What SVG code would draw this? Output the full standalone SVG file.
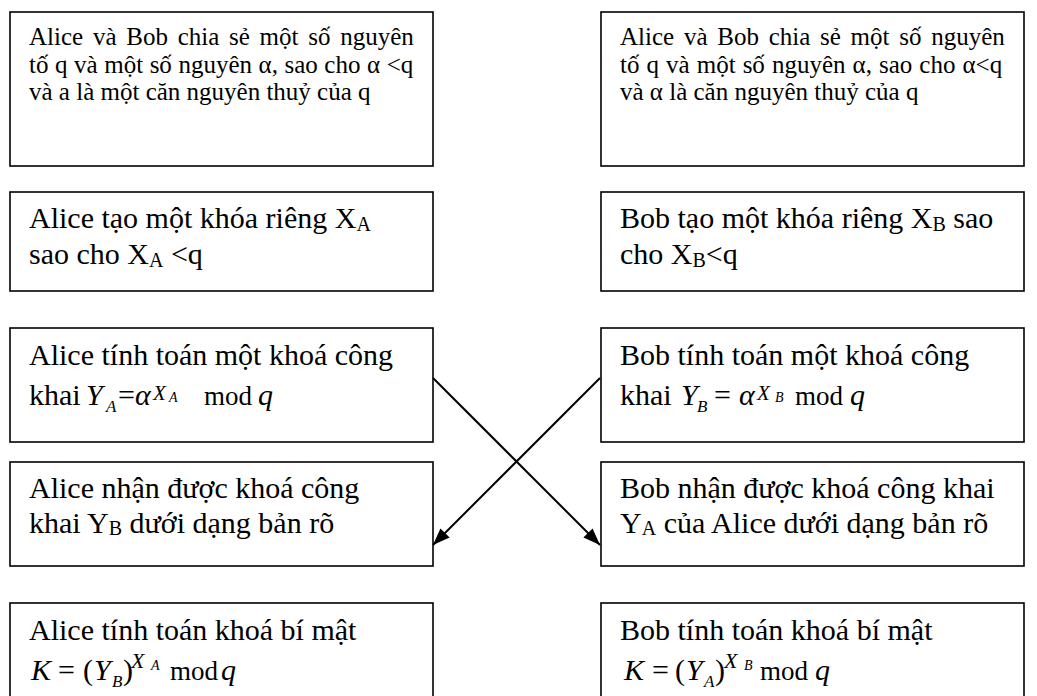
<svg xmlns="http://www.w3.org/2000/svg" width="1037" height="696" viewBox="0 0 1037 696">
<style>
.box{fill:#fff;stroke:#000;stroke-width:1.6}
.t{font-family:"Liberation Serif","Times New Roman",serif;fill:#000}
.s{font-size:25px}
.m{font-size:30px}
.md{font-size:27px}
.i{font-style:italic}
.conn{stroke:#000;stroke-width:2;fill:none}
</style>
<defs>
<marker id="ah" markerUnits="userSpaceOnUse" markerWidth="18" markerHeight="14" refX="17" refY="6.5" orient="auto">
<path d="M0,0 L17,6.5 L0,13 Z" fill="#000"/>
</marker>
</defs>
<rect width="1037" height="696" fill="#fff"/>

<g id="a1">
<rect class="box" x="10" y="12" width="423" height="154"/>
<text class="t s" x="29" y="45" word-spacing="3.5">Alice và Bob chia sẻ một số nguyên</text>
<text class="t s" x="29" y="72.5" word-spacing="0.3">tố q và một số nguyên α, sao cho α &lt;q</text>
<text class="t s" x="29" y="100">và a là một căn nguyên thuỷ của q</text>
</g>
<g id="b1">
<rect class="box" x="601" y="12" width="423" height="154"/>
<text class="t s" x="620" y="45" word-spacing="3.5">Alice và Bob chia sẻ một số nguyên</text>
<text class="t s" x="620" y="72.5" word-spacing="0.8">tố q và một số nguyên α, sao cho α&lt;q</text>
<text class="t s" x="620" y="100">và α là căn nguyên thuỷ của q</text>
</g>

<g id="a2">
<rect class="box" x="10" y="192" width="423" height="99"/>
<text class="t m" x="29" y="228">Alice tạo một khóa riêng X<tspan font-size="20" dy="3">A</tspan></text>
<text class="t m" x="29" y="264">sao cho X<tspan font-size="20" dy="3">A</tspan><tspan dy="-3"> &lt;q</tspan></text>
</g>
<g id="b2">
<rect class="box" x="601" y="192" width="423" height="99"/>
<text class="t m" x="620" y="228">Bob tạo một khóa riêng X<tspan font-size="20" dy="3">B</tspan><tspan dy="-3"> sao</tspan></text>
<text class="t m" x="620" y="264">cho X<tspan font-size="20" dy="3">B</tspan><tspan dy="-3">&lt;q</tspan></text>
</g>

<g id="a3">
<rect class="box" x="10" y="328" width="423" height="114"/>
<text class="t m" x="29" y="365">Alice tính toán một khoá công</text>
<text class="t m" x="29" y="405">khai</text>
<text class="t m i" x="86" y="405">Y</text>
<text class="t i" font-size="17" x="106" y="412">A</text>
<text class="t m" x="118" y="405">=</text>
<text class="t m i" x="135" y="405">α</text>
<text class="t i" font-size="21" x="153" y="400">X</text>
<text class="t i" font-size="14" x="169" y="402">A</text>
<text class="t md" x="204" y="405">mod</text>
<text class="t m i" x="258" y="405">q</text>
</g>
<g id="b3">
<rect class="box" x="601" y="328" width="423" height="114"/>
<text class="t m" x="620" y="365">Bob tính toán một khoá công</text>
<text class="t m" x="620" y="405">khai</text>
<text class="t m i" x="681" y="405">Y</text>
<text class="t i" font-size="17" x="697" y="412">B</text>
<text class="t m" x="714" y="405">=</text>
<text class="t m i" x="739" y="405">α</text>
<text class="t i" font-size="21" x="757" y="400">X</text>
<text class="t i" font-size="14" x="775" y="402">B</text>
<text class="t md" x="795" y="405">mod</text>
<text class="t m i" x="850" y="405">q</text>
</g>

<g id="a4">
<rect class="box" x="10" y="462" width="423" height="104"/>
<text class="t m" x="29" y="498">Alice nhận được khoá công</text>
<text class="t m" x="29" y="533">khai Y<tspan font-size="20" dy="2">B</tspan><tspan dy="-2"> dưới dạng bản rõ</tspan></text>
</g>
<g id="b4">
<rect class="box" x="601" y="462" width="423" height="104"/>
<text class="t m" x="620" y="498">Bob nhận được khoá công khai</text>
<text class="t m" x="620" y="533">Y<tspan font-size="20" dy="2">A</tspan><tspan dy="-2"> của Alice dưới dạng bản rõ</tspan></text>
</g>

<g id="a5">
<rect class="box" x="10" y="603" width="423" height="100"/>
<text class="t m" x="29" y="640">Alice tính toán khoá bí mật</text>
<text class="t m i" x="31" y="680">K</text>
<text class="t m" x="58" y="680">=</text>
<text class="t m" x="83" y="680">(</text>
<text class="t m i" x="94" y="680">Y</text>
<text class="t i" font-size="17" x="112" y="687">B</text>
<text class="t m" x="123" y="680">)</text>
<text class="t i" font-size="22" x="131" y="668">X</text>
<text class="t i" font-size="14" x="151" y="670">A</text>
<text class="t md" x="170" y="680">mod</text>
<text class="t m i" x="221" y="680">q</text>
</g>
<g id="b5">
<rect class="box" x="601" y="603" width="423" height="100"/>
<text class="t m" x="620" y="640">Bob tính toán khoá bí mật</text>
<text class="t m i" x="624" y="680">K</text>
<text class="t m" x="652" y="680">=</text>
<text class="t m" x="675" y="680">(</text>
<text class="t m i" x="686" y="680">Y</text>
<text class="t i" font-size="17" x="704" y="687">A</text>
<text class="t m" x="715" y="680">)</text>
<text class="t i" font-size="22" x="724" y="668">X</text>
<text class="t i" font-size="14" x="744" y="670">B</text>
<text class="t md" x="760" y="680">mod</text>
<text class="t m i" x="815" y="680">q</text>
</g>

<g id="connectors">
<line class="conn" x1="433" y1="378" x2="600" y2="545" marker-end="url(#ah)"/>
<line class="conn" x1="600" y1="378" x2="433" y2="545" marker-end="url(#ah)"/>
</g>
</svg>
